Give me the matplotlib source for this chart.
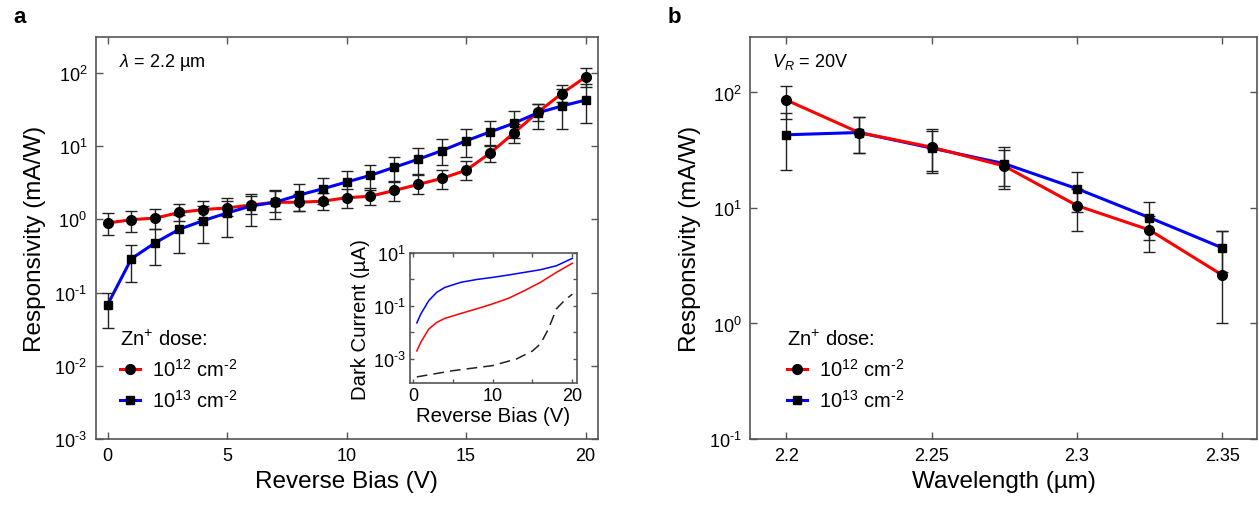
import numpy as np
import matplotlib
matplotlib.use("Agg")
import matplotlib.pyplot as plt
from matplotlib.lines import Line2D

plt.rcParams['font.family'] = ['Liberation Sans', 'DejaVu Sans']
plt.rcParams['mathtext.fontset'] = 'custom'
plt.rcParams['mathtext.rm'] = 'Liberation Sans'
plt.rcParams['mathtext.it'] = 'Liberation Sans:italic'
plt.rcParams['mathtext.default'] = 'regular'

# panel a: responsivity vs reverse bias (lambda = 2.2 um)
bias = [0, 1, 2, 3, 4, 5, 6, 7, 8, 9, 10, 11, 12, 13, 14, 15, 16, 17, 18, 19, 20]
resp_12 = [0.89, 0.99, 1.04, 1.24, 1.36, 1.43, 1.57, 1.71, 1.71, 1.77, 1.97,
           2.07, 2.48, 3.0, 3.63, 4.68, 8.0, 15.1, 29, 52, 88]
lo_12 = [0.62, 0.67, 0.73, 0.95, 1.0, 1.1, 1.2, 1.25, 1.3, 1.35, 1.45,
         1.55, 1.8, 2.2, 2.6, 3.4, 6.0, 11, 22, 40, 65]
hi_12 = [1.21, 1.31, 1.40, 1.63, 1.79, 1.95, 2.1, 2.4, 2.2, 2.3, 2.6,
         2.7, 3.3, 4.0, 4.7, 6.3, 10.5, 20, 38, 68, 116]
resp_13 = [0.068, 0.29, 0.48, 0.73, 0.96, 1.22, 1.52, 1.71, 2.14, 2.61, 3.23,
           3.99, 5.14, 6.62, 8.7, 11.8, 15.6, 20.5, 28.5, 35.2, 42.5]
lo_13 = [0.033, 0.14, 0.24, 0.35, 0.48, 0.57, 0.8, 1.0, 1.3, 1.6, 2.0,
         2.5, 3.2, 4.2, 5.5, 7.2, 10, 13, 17, 17, 21]
hi_13 = [0.10, 0.44, 0.74, 1.15, 1.5, 1.8, 2.2, 2.5, 3.0, 3.7, 4.6,
         5.6, 7.2, 9.4, 12.5, 17, 22, 30, 38, 60, 70]

# inset: dark current vs reverse bias
dc_bias = [0.5, 1, 2, 3, 4, 6, 8, 10, 12, 14, 16, 18, 20]
dc_13 = [0.023, 0.05, 0.16, 0.33, 0.50, 0.78, 1.0, 1.2, 1.48, 1.86, 2.34, 3.3, 6.3]
dc_12 = [0.002, 0.0043, 0.0135, 0.024, 0.034, 0.052, 0.078, 0.12, 0.195, 0.38, 0.78, 1.86, 4.1]
ref_bias = [0.5, 5, 10, 13, 15, 16, 17, 18, 19, 20]
dc_ref = [0.00021, 0.00036, 0.00056, 0.001, 0.002, 0.0037, 0.0135, 0.078, 0.16, 0.28]

# panel b: responsivity vs wavelength (V_R = 20 V)
wl = [2.2, 2.225, 2.25, 2.275, 2.3, 2.325, 2.35]
wl_12 = [86, 45, 33.6, 23.1, 10.5, 6.45, 2.63]
wl_lo_12 = [59, 30.2, 20.2, 14.7, 6.3, 4.15, 1.0]
wl_hi_12 = [114, 60.7, 48, 33.5, 14.5, 8.5, 6.37]
wl_13 = [43, 45, 33, 24.2, 14.7, 8.25, 4.52]
wl_lo_13 = [21.3, 30.2, 21, 15.5, 9.2, 5.3, 2.8]
wl_hi_13 = [66, 60.7, 46, 32, 20.3, 11.2, 6.37]

RED = '#ff0000'
BLUE = '#0000ff'
EC = '#222222'
SP = '#555555'


def pow10(n):
    return '10$^{\\text{%d}}$' % n


def style_axes(ax, fs=13):
    ax.set_yscale('log')
    for s in ax.spines.values():
        s.set_color(SP)
        s.set_linewidth(1.2)
    ax.tick_params(which='major', direction='in', top=True, right=True,
                   length=5, width=1, color=SP, labelsize=fs, pad=6)
    ax.tick_params(which='minor', length=0)


def draw_series(ax, x, y, lo, hi, color, marker, ms, lz=2):
    y = np.array(y)
    yerr = [y - np.array(lo), np.array(hi) - y]
    ax.plot(x, y, color=color, lw=2.2, zorder=lz)
    ax.errorbar(x, y, yerr=yerr, fmt='none', ecolor=EC, elinewidth=1.0,
                capsize=4, capthick=1.0, zorder=3)
    ax.plot(x, y, ls='none', marker=marker, ms=ms, mfc='black', mec='black', zorder=4)


def add_legend(ax, xa, ya):
    handles = [Line2D([], [], color=RED, lw=2.2, marker='o', ms=7, mfc='k', mec='k'),
               Line2D([], [], color=BLUE, lw=2.2, marker='s', ms=5.5, mfc='k', mec='k')]
    ax.legend(handles, ['10$^{12}$ cm$^{\\text{-2}}$', '10$^{13}$ cm$^{\\text{-2}}$'],
              title='Zn$^{+}$ dose:', alignment='left', frameon=False,
              loc='upper left', bbox_to_anchor=(xa, ya), borderpad=0,
              borderaxespad=0, handlelength=1.0, handletextpad=0.6,
              labelspacing=0.45, fontsize=14.5, title_fontsize=14.5)


fig = plt.figure(figsize=(12.59, 5.06), dpi=100)

# ---- panel a
ax1 = fig.add_axes([0.0759, 0.1304, 0.3987, 0.7945])
style_axes(ax1)
draw_series(ax1, bias, resp_12, lo_12, hi_12, RED, 'o', 7)
draw_series(ax1, bias, resp_13, lo_13, hi_13, BLUE, 's', 5.5)
ax1.set_xlim(-0.5, 20.5)
ax1.set_ylim(1e-3, 10 ** 2.49)
ax1.set_xticks([0, 5, 10, 15, 20])
ax1.set_yticks([1e-3, 1e-2, 1e-1, 1, 10, 100])
ax1.set_yticklabels([pow10(n) for n in range(-3, 3)])
ax1.set_xlabel('Reverse Bias (V)', fontsize=17.5, labelpad=4)
ax1.set_ylabel('Responsivity (mA/W)', fontsize=17.5, labelpad=6)
ax1.text(0.046, 0.94, r'$\mathit{\lambda}$ = 2.2 µm', transform=ax1.transAxes,
         fontsize=13, va='center', ha='left')
add_legend(ax1, 0.049, 0.274)

# ---- inset
axi = fig.add_axes([0.3257, 0.2405, 0.1324, 0.2575])
style_axes(axi, fs=13)
axi.plot(dc_bias, dc_13, color=BLUE, lw=1.1)
axi.plot(dc_bias, dc_12, color=RED, lw=1.1)
axi.plot(ref_bias, dc_ref, color='#222222', lw=1.1, dashes=(7, 4))
axi.set_xlim(-0.35, 20.55)
axi.set_ylim(10 ** -3.92, 10)
axi.set_xticks([0, 5, 10, 15, 20])
axi.set_xticklabels(['0', '', '10', '', '20'])
axi.set_yticks([1e-3, 1e-2, 1e-1, 1, 10])
axi.set_yticklabels([pow10(-3), '', pow10(-1), '', pow10(1)])
axi.tick_params(which='major', length=3, pad=3)
axi.set_xlabel('Reverse Bias (V)', fontsize=14.7, labelpad=1)
axi.set_ylabel('Dark Current (µA)', fontsize=14.7, labelpad=2)

# ---- panel b
ax2 = fig.add_axes([0.5957, 0.1304, 0.4027, 0.7945])
style_axes(ax2)
draw_series(ax2, wl, wl_12, wl_lo_12, wl_hi_12, RED, 'o', 7, lz=2.5)
draw_series(ax2, wl, wl_13, wl_lo_13, wl_hi_13, BLUE, 's', 5.5)
ax2.set_xlim(2.1875, 2.362)
ax2.set_ylim(0.1, 10 ** 2.48)
ax2.set_xticks([2.2, 2.25, 2.3, 2.35])
ax2.set_xticklabels(['2.2', '2.25', '2.3', '2.35'])
ax2.set_yticks([0.1, 1, 10, 100])
ax2.set_yticklabels([pow10(n) for n in range(-1, 3)])
ax2.set_xlabel('Wavelength (µm)', fontsize=17.5, labelpad=4)
ax2.set_ylabel('Responsivity (mA/W)', fontsize=17.5, labelpad=6)
ax2.text(0.043, 0.94, r'$\mathit{V_R}$ = 20V', transform=ax2.transAxes,
         fontsize=13, va='center', ha='left')
add_legend(ax2, 0.073, 0.274)

fig.text(0.011, 0.965, 'a', fontsize=16, fontweight='bold', va='center')
fig.text(0.530, 0.965, 'b', fontsize=16, fontweight='bold', va='center')

fig.savefig('out.png', dpi=100)
